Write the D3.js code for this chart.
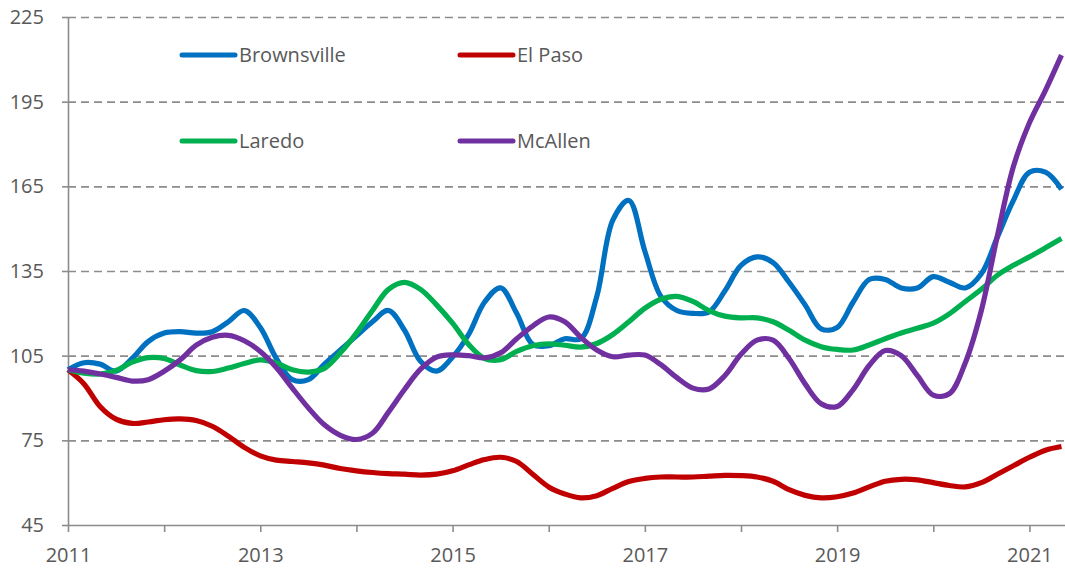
<!DOCTYPE html>
<html>
<head>
<meta charset="utf-8">
<script src="https://cdn.jsdelivr.net/npm/d3@7/dist/d3.min.js"></script>
<style>
  body { margin: 0; background: #fff; }
  svg text { font-family: "Open Sans", sans-serif; fill: #595959; }
</style>
</head>
<body>
<script>
// values, one point every two months from Jan 2011
let dates = d3.range(0, 63).map(function(i) { return 2011 + i / 6; });

let brownsville = [100, 102.5, 102, 99.5, 104, 110, 113, 113.5, 113, 113.5, 117, 121,
  115, 104, 96.5, 96.5, 102, 107, 112, 117, 121, 114, 103, 99.5,
  104.5, 112.5, 124, 129, 120, 109, 108.5, 111, 111, 126, 153, 160,
  142, 126, 121, 120, 120.5, 128, 137, 140, 138, 131, 123, 114.5,
  115, 124, 132, 132, 129, 129, 133, 131, 129, 134, 147, 160,
  170, 170, 164];

let elPaso = [100, 95, 87, 82.5, 81, 81.5, 82.3, 82.6, 82, 80, 76.5, 72.5,
  69.5, 68, 67.5, 67, 66.2, 65, 64.2, 63.6, 63.2, 63, 62.7, 63,
  64.2, 66.3, 68.2, 69, 67.5, 63, 58.5, 56, 54.6, 55.4, 58, 60.4,
  61.5, 62, 62, 62, 62.3, 62.6, 62.5, 62, 60.5, 57.5, 55.5, 54.6,
  55, 56.3, 58.5, 60.5, 61.2, 61, 60, 59, 58.5, 60, 63, 66,
  69, 71.5, 72.8];

let laredo = [100, 98.8, 98.5, 99.8, 102.7, 104.3, 104, 101.7, 99.7, 99.4, 100.6, 102.2,
  103.5, 102.4, 100, 99.2, 100.5, 106, 113, 121, 128.5, 131, 128.5, 123,
  116.5, 109, 104, 103.6, 106.5, 108.5, 109.2, 108.7, 108, 109.3, 112.5, 117,
  121.8, 125, 126, 124.2, 121, 119, 118.4, 118.4, 117, 114, 110.5, 108.2,
  107.2, 107, 108.8, 111, 113, 114.7, 116.5, 119.8, 124.2, 128.5, 133.5, 137,
  140, 143.2, 146.5];

let mcallen = [100, 99.5, 98.5, 97.3, 96, 96.5, 99.5, 103.5, 108.7, 111.5, 112.2, 110.3,
  106.5, 100.8, 93.5, 86.5, 80.5, 76.8, 75.3, 77.5, 85, 93, 100.2, 104.5,
  105.3, 105, 104.2, 106, 111, 115.5, 118.7, 117, 111.5, 107, 104.6, 105.2,
  105.2, 101.8, 97.2, 93.5, 93.2, 98, 105.5, 110.5, 110.5, 104, 95, 88,
  87, 93, 101.5, 106.8, 105, 98, 91, 91.5, 102.5, 121, 147.5, 172,
  187.5, 199, 211.5];

let seriesNames = ["Brownsville", "El Paso", "Laredo", "McAllen"];
let seriesValues = [brownsville, elPaso, laredo, mcallen];
let seriesColors = ["#0070C0", "#C00000", "#00B050", "#7030A0"];

let yTicks = [45, 75, 105, 135, 165, 195, 225];
let xTicks = [2011, 2012, 2013, 2014, 2015, 2016, 2017, 2018, 2019, 2020, 2021];

let margin = null, width = null, height = null;
let svg = null;
let x, y = null;

setupCanvasSize();
appendSvg("body");
setupScales();
appendGrid();
appendYAxis();
appendXAxis();
appendLines();
appendLegend();

function setupCanvasSize() {
  margin = {top: 17, left: 68, bottom: 44, right: 0};
  width = 1065 - margin.left - margin.right;
  height = 569 - margin.top - margin.bottom;
}

function appendSvg(domElement) {
  svg = d3.select(domElement).append("svg")
    .attr("width", width + margin.left + margin.right)
    .attr("height", height + margin.top + margin.bottom)
    .append("g")
    .attr("transform", `translate(${margin.left}, ${margin.top})`);
}

function setupScales() {
  x = d3.scaleLinear()
    .domain([2011, 2021.37])
    .range([0, width]);

  y = d3.scaleLinear()
    .domain([45, 225])
    .range([height, 0]);
}

function appendGrid() {
  // dashed horizontal gridlines, the 45 line is the x axis itself
  let grid = svg.append("g")
    .call(d3.axisLeft(y).tickValues(yTicks.slice(1)).tickSize(-width).tickFormat(""));
  grid.select(".domain").remove();
  grid.selectAll("line")
    .attr("stroke", "#8c8c8c")
    .attr("stroke-width", 1.6)
    .attr("stroke-dasharray", "8,5");
}

function appendYAxis() {
  let ax = svg.append("g")
    .call(d3.axisLeft(y).tickValues(yTicks).tickSize(6).tickPadding(18).tickSizeOuter(0));
  ax.select(".domain").attr("stroke", "#8c8c8c").attr("stroke-width", 1.6);
  ax.selectAll("line").attr("stroke", "#8c8c8c").attr("stroke-width", 1.6);
  ax.selectAll("text").attr("font-size", 20).style("fill", "#595959");
}

function appendXAxis() {
  let ax = svg.append("g")
    .attr("transform", `translate(0, ${height})`)
    .call(d3.axisBottom(x)
      .tickValues(xTicks)
      .tickSize(7)
      .tickPadding(16)
      .tickSizeOuter(0)
      .tickFormat(function(d) { return (d - 2011) % 2 === 0 ? d : ""; }));
  ax.select(".domain").attr("stroke", "#8c8c8c").attr("stroke-width", 1.6);
  ax.selectAll("line").attr("stroke", "#8c8c8c").attr("stroke-width", 1.6);
  ax.selectAll("text").attr("font-size", 20).style("fill", "#595959");
}

function appendLines() {
  let line = d3.line()
    .x(function(d, i) { return x(dates[i]); })
    .y(function(d) { return y(d); })
    .curve(d3.curveCatmullRom.alpha(0.5));

  seriesValues.forEach(function(values, i) {
    svg.append("path")
      .datum(values)
      .attr("fill", "none")
      .attr("stroke", seriesColors[i])
      .attr("stroke-width", 5.2)
      .attr("stroke-linejoin", "round")
      .attr("d", line);
  });
}

function appendLegend() {
  // two rows, two columns, like the original
  let legend = svg.append("g");
  seriesNames.forEach(function(name, i) {
    let col = i % 2, row = Math.floor(i / 2);
    let g = legend.append("g")
      .attr("transform", `translate(${114 + col * 278}, ${38 + row * 86})`);
    g.append("line")
      .attr("x1", 0).attr("x2", 53)
      .attr("stroke", seriesColors[i])
      .attr("stroke-width", 5)
      .attr("stroke-linecap", "round");
    g.append("text")
      .attr("x", 57)
      .attr("dy", "0.35em")
      .attr("font-size", 20)
      .text(name);
  });
}
</script>
</body>
</html>
